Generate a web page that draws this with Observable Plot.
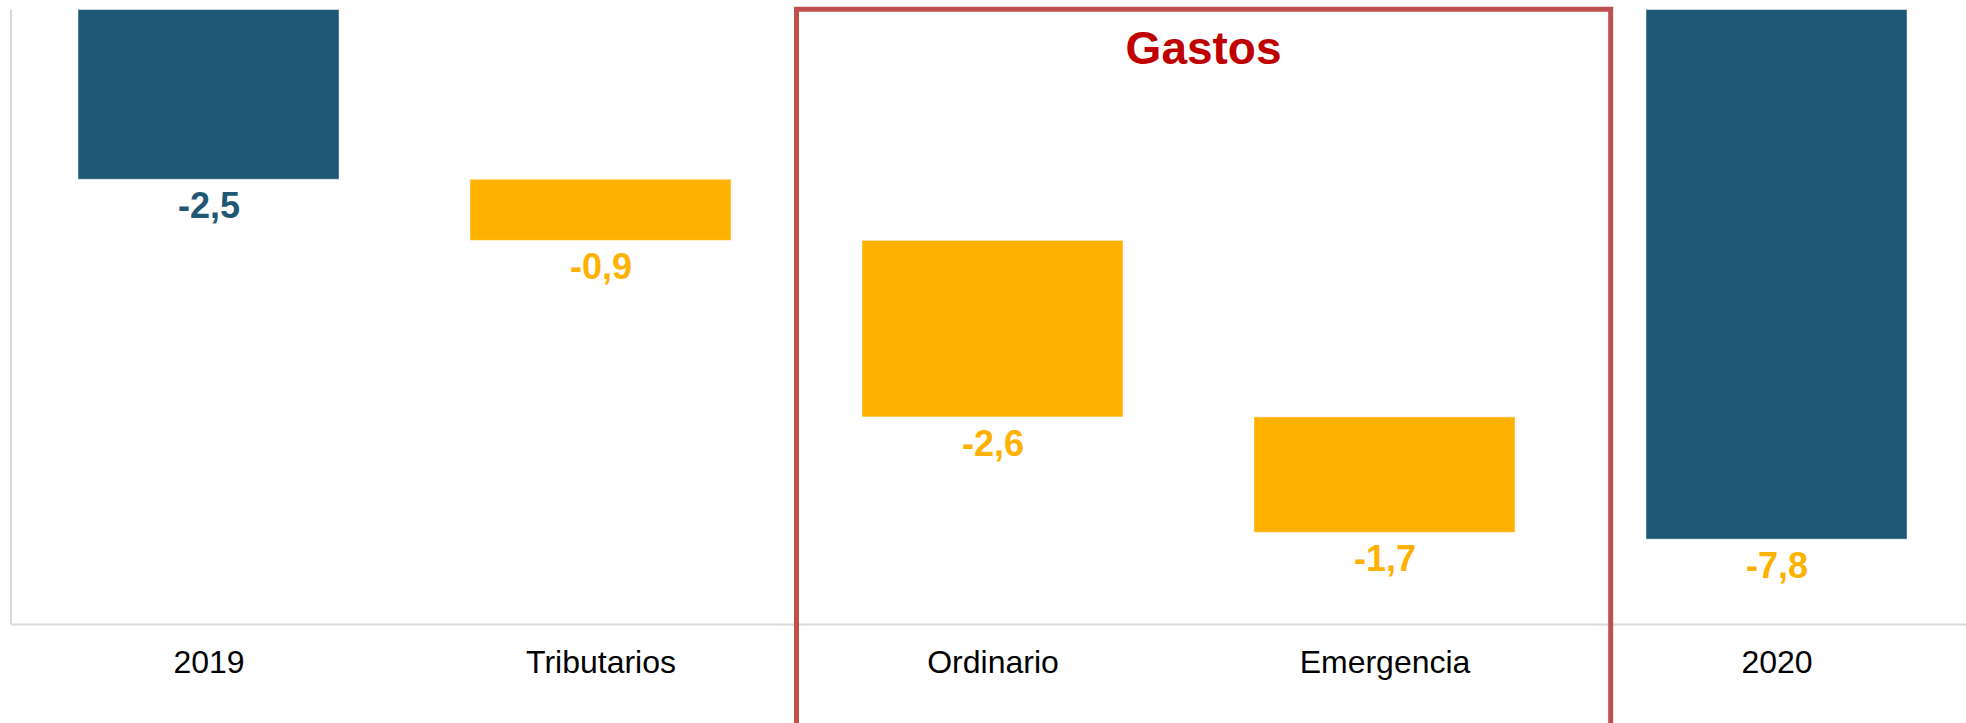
<!DOCTYPE html>
<html>
<head>
<meta charset="utf-8">
<script src="https://cdn.jsdelivr.net/npm/d3@7"></script>
<script src="https://cdn.jsdelivr.net/npm/@observablehq/plot@0.6"></script>
<style>
  html, body { margin: 0; padding: 0; background: #ffffff; }
  #chart { width: 1966px; height: 723px; overflow: hidden; }
</style>
</head>
<body>
<div id="chart"></div>
<script>
// ---- data ----
const categories = ["2019", "Tributarios", "Ordinario", "Emergencia", "2020"];
const values = [-2.5, -0.9, -2.6, -1.7, -7.8];
const kinds = ["total", "delta", "delta", "delta", "total"];
const groupLabel = "Gastos";
const groupMembers = ["Ordinario", "Emergencia"];

// ---- styles ----
const BLUE = "#1F5874";
const ORANGE = "#FFB100";
const BOX_RED = "#C0504D";
const TITLE_RED = "#C00000";
const AXIS_GRAY = "#d9d9d9";

// ---- waterfall rows ----
let running = 0;
const rows = categories.map((cat, i) => {
  let y1, y2;
  if (kinds[i] === "total") { y1 = 0; y2 = values[i]; running = values[i]; }
  else { y1 = running; y2 = running + values[i]; running = y2; }
  return { cat, kind: kinds[i], y1, y2, bottom: Math.min(y1, y2), i,
           label: values[i].toFixed(1).replace(".", ",") };
});

const yMin = -9.05;

const chart = Plot.plot({
  width: 1966,
  height: 723,
  marginLeft: 11,
  marginRight: 0,
  marginTop: 9.5,
  marginBottom: 99,
  style: { fontFamily: "'Liberation Sans', Arial, sans-serif", background: "#ffffff" },
  x: { domain: categories, paddingInner: 0.335, paddingOuter: 0.1575, align: 0.534, label: null },
  y: { domain: [yMin, 0], axis: null },
  marks: [
    Plot.barY(rows, {
      x: "cat", y1: "y1", y2: "y2",
      fill: d => d.kind === "total" ? BLUE : ORANGE,
      stroke: "#ffffff", strokeOpacity: 0.45, strokeWidth: 1
    }),
    Plot.ruleY([yMin], { stroke: AXIS_GRAY, strokeWidth: 2 }),
    Plot.text(rows, {
      x: "cat", y: "bottom", text: "label",
      lineAnchor: "top", dy: 13,
      fontSize: 36, fontWeight: "bold",
      fill: d => d.i === 0 ? BLUE : ORANGE
    }),
    Plot.axisX({ tickSize: 0, tickPadding: 26, fontSize: 32, fill: "#000000", label: null })
  ]
});

document.getElementById("chart").appendChild(chart);

// ---- overlay: left axis line and "Gastos" group box, positioned from the plot's scales ----
(function () {
  const sx = chart.scale("x");
  const sy = chart.scale("y");
  const step = sx.step;
  const bw = sx.bandwidth;
  const xStart = sx.range[0];
  const yTop = sy.apply(0);
  const yBot = sy.apply(yMin);
  const svg = d3.select(chart);

  svg.append("line")
    .attr("x1", xStart).attr("x2", xStart)
    .attr("y1", yTop).attr("y2", yBot)
    .attr("stroke", AXIS_GRAY).attr("stroke-width", 2);

  const c0 = sx.apply(groupMembers[0]) + bw / 2;
  const c1 = sx.apply(groupMembers[groupMembers.length - 1]) + bw / 2;
  const left = c0 - step * 0.5;
  const right = c1 + step * 0.577;
  const top = yTop - 0.3;
  const bottom = 723 + 20;
  svg.append("path")
    .attr("d", `M${left},${bottom}V${top}H${right}V${bottom}`)
    .attr("fill", "none")
    .attr("stroke", BOX_RED)
    .attr("stroke-width", 5);
  svg.append("text")
    .attr("x", (left + right) / 2)
    .attr("y", top + 55)
    .attr("text-anchor", "middle")
    .attr("font-size", 46)
    .attr("font-weight", "bold")
    .attr("fill", TITLE_RED)
    .text(groupLabel);
})();
</script>
</body>
</html>
